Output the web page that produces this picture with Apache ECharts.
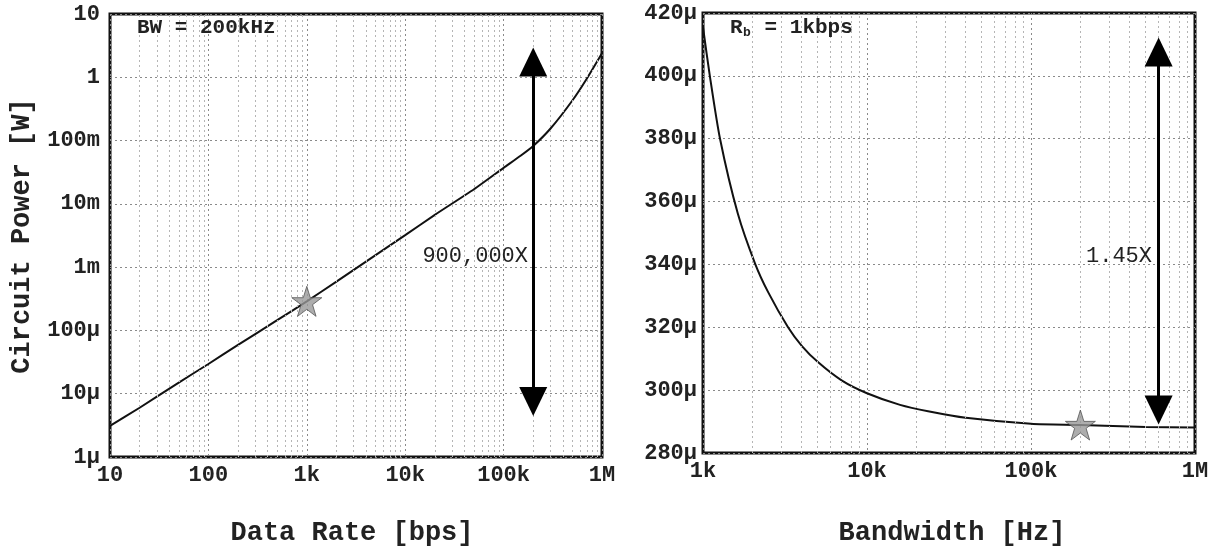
<!DOCTYPE html>
<html>
<head>
<meta charset="utf-8">
<script src="https://cdn.jsdelivr.net/npm/echarts@6/dist/echarts.min.js"></script>
<style>
  html, body { margin: 0; padding: 0; background: #fff; }
  #chart { width: 1220px; height: 548px; }
</style>
</head>
<body>
<div id="chart"></div>
<script>
// Left panel: circuit power vs data rate (BW = 200 kHz)
const rateBps = [10, 20, 50, 100, 200, 500, 1e3, 2e3, 5e3, 1e4, 2e4, 5e4, 1e5, 1.5e5, 2e5, 3e5, 5e5, 7e5, 1e6];
const powerW = [3.1e-6, 6.0e-6, 1.5e-5, 2.95e-5, 5.9e-5, 1.45e-4, 2.88e-4, 5.9e-4, 1.55e-3, 3.2e-3,
                6.7e-3, 1.7e-2, 3.7e-2, 5.8e-2, 8.2e-2, 0.155, 0.43, 0.95, 2.4];
const rateStar = [1000, 2.88e-4];
const rateArrow = { x: 2e5, from: 7.5e-6, to: 1.74 };

// Right panel: circuit power (µW) vs bandwidth (Rb = 1 kbps)
const bwHz = [1000, 1100, 1270, 1630, 2080, 2500, 3300, 4000, 5000, 7000, 10000, 15900, 24000,
              40000, 100000, 200000, 500000, 1000000];
const powerUW = [415.5, 400.1, 380, 356.2, 340.2, 331.1, 320, 314.1, 309, 303.1, 299, 295.3, 293.2,
                 291.2, 289.3, 288.9, 288.3, 288.1];
const bwStar = [200000, 288.9];
const bwArrow = { x: 6e5, from: 293.7, to: 407.6 };

// Axis extents and tick labels
const rateRange = [10, 1e6];
const powerRange = [1e-6, 10];
const bwRange = [1e3, 1e6];
const uwRange = [280, 420];
const uwStep = 20;
const decadeLabels = { '-6': '1µ', '-5': '10µ', '-4': '100µ', '-3': '1m', '-2': '10m', '-1': '100m',
                       '0': '1', '1': '10', '2': '100', '3': '1k', '4': '10k', '5': '100k', '6': '1M' };

// Minor grid positions (2..9 within each decade)
function minorValues(lo, hi) {
  const out = [];
  for (let d = lo; d < hi; d *= 10) {
    for (let m = 2; m <= 9; m++) out.push(d * m);
  }
  return out;
}
const rateMinor = minorValues(10, 1e6);
const bwMinor = minorValues(1e3, 1e6);

const FONT = 'Liberation Mono';
const decadeFmt = v => decadeLabels[String(Math.round(Math.log10(v)))] || '';
const starPath = 'path://M50,2 L61,36 L97,36 L68,57 L79,92 L50,71 L21,92 L32,57 L3,36 L39,36 Z';

const gridLine = { show: true, lineStyle: { color: '#8a8a8a', type: [2, 3], width: 1 } };
const labelStyle = { fontFamily: FONT, fontWeight: 'bold', fontSize: 22, color: '#222' };

function minorSeries(xi, yi, values, yData) {
  return {
    type: 'line', xAxisIndex: xi, yAxisIndex: yi, data: yData, silent: true, z: 1,
    symbol: 'none', lineStyle: { opacity: 0 },
    markLine: {
      silent: true, symbol: 'none', label: { show: false }, animation: false,
      lineStyle: { color: '#b5b5b5', type: [2, 3], width: 1 },
      data: values.map(v => ({ xAxis: v }))
    }
  };
}

function arrowSeries(xi, yi, arrow) {
  return {
    type: 'line', xAxisIndex: xi, yAxisIndex: yi, data: [[arrow.x, arrow.from]], z: 5,
    symbol: 'none', lineStyle: { opacity: 0 }, silent: true,
    markLine: {
      silent: true, animation: false, symbol: ['triangle', 'triangle'], symbolSize: [28, 29],
      label: { show: false },
      lineStyle: { color: '#000', width: 3, type: 'solid' },
      data: [[{ coord: [arrow.x, arrow.from] }, { coord: [arrow.x, arrow.to] }]]
    }
  };
}

const chart = echarts.init(document.getElementById('chart'), null, { renderer: 'canvas' });

chart.setOption({
  animation: false,
  backgroundColor: '#fff',
  grid: [
    { left: 110, top: 14, width: 492, height: 443, show: true, borderColor: '#111', borderWidth: 3, backgroundColor: 'transparent' },
    { left: 703, top: 13, width: 492, height: 440, show: true, borderColor: '#111', borderWidth: 3, backgroundColor: 'transparent' }
  ],
  xAxis: [
    { type: 'log', gridIndex: 0, min: rateRange[0], max: rateRange[1], logBase: 10,
      axisLine: { show: false }, axisTick: { show: false }, splitLine: gridLine,
      axisLabel: Object.assign({ formatter: decadeFmt, margin: 7 }, labelStyle) },
    { type: 'log', gridIndex: 1, min: bwRange[0], max: bwRange[1], logBase: 10,
      axisLine: { show: false }, axisTick: { show: false }, splitLine: gridLine,
      axisLabel: Object.assign({ formatter: decadeFmt, margin: 7 }, labelStyle) }
  ],
  yAxis: [
    { type: 'log', gridIndex: 0, min: powerRange[0], max: powerRange[1], logBase: 10,
      axisLine: { show: false }, axisTick: { show: false }, splitLine: gridLine,
      axisLabel: Object.assign({ formatter: decadeFmt, margin: 10 }, labelStyle) },
    { type: 'value', gridIndex: 1, min: uwRange[0], max: uwRange[1], interval: uwStep,
      axisLine: { show: false }, axisTick: { show: false }, splitLine: gridLine,
      axisLabel: Object.assign({ formatter: v => v + 'µ', margin: 6 }, labelStyle) }
  ],
  series: [
    minorSeries(0, 0, rateMinor, [[rateRange[0], powerRange[0]]]),
    minorSeries(1, 1, bwMinor, [[bwRange[0], uwRange[0]]]),
    {
      type: 'line', xAxisIndex: 0, yAxisIndex: 0, z: 3, symbol: 'none', smooth: 0.2,
      lineStyle: { color: '#111', width: 2 },
      data: rateBps.map((x, i) => [x, powerW[i]])
    },
    {
      type: 'line', xAxisIndex: 1, yAxisIndex: 1, z: 3, symbol: 'none', smooth: 0.25,
      lineStyle: { color: '#111', width: 2 },
      data: bwHz.map((x, i) => [x, powerUW[i]])
    },
    arrowSeries(0, 0, rateArrow),
    arrowSeries(1, 1, bwArrow),
    {
      type: 'scatter', xAxisIndex: 0, yAxisIndex: 0, z: 6, symbol: starPath, symbolSize: 30,
      itemStyle: { color: '#999', borderColor: '#555', borderWidth: 1 },
      data: [rateStar]
    },
    {
      type: 'scatter', xAxisIndex: 1, yAxisIndex: 1, z: 6, symbol: starPath, symbolSize: 30,
      itemStyle: { color: '#999', borderColor: '#555', borderWidth: 1 },
      data: [bwStar]
    }
  ],
  graphic: [
    { type: 'text', left: 137, top: 17, z: 10,
      style: { text: 'BW = 200kHz', font: 'bold 21px "' + FONT + '"', fill: '#222' } },
    { type: 'text', x: 730, y: 17, z: 10,
      style: { text: 'R', font: 'bold 21px "' + FONT + '"', fill: '#222' } },
    { type: 'text', x: 743, y: 26, z: 10,
      style: { text: 'b', font: 'bold 13px "' + FONT + '"', fill: '#222' } },
    { type: 'text', x: 752, y: 17, z: 10,
      style: { text: ' = 1kbps', font: 'bold 21px "' + FONT + '"', fill: '#222' } },
    { type: 'text', x: 528, y: 256, z: 10,
      style: { text: '900,000X', font: '22px "' + FONT + '"', fill: '#222', align: 'right', verticalAlign: 'middle' } },
    { type: 'text', x: 1152, y: 256, z: 10,
      style: { text: '1.45X', font: '22px "' + FONT + '"', fill: '#222', align: 'right', verticalAlign: 'middle' } },
    { type: 'text', x: 352, y: 533, z: 10,
      style: { text: 'Data Rate [bps]', font: 'bold 27px "' + FONT + '"', fill: '#222', align: 'center', verticalAlign: 'middle' } },
    { type: 'text', x: 952, y: 533, z: 10,
      style: { text: 'Bandwidth [Hz]', font: 'bold 27px "' + FONT + '"', fill: '#222', align: 'center', verticalAlign: 'middle' } },
    { type: 'text', x: 22, y: 236, rotation: Math.PI / 2, z: 10,
      style: { text: 'Circuit Power [W]', font: 'bold 27px "' + FONT + '"', fill: '#222', align: 'center', verticalAlign: 'middle' } }
  ]
});
</script>
</body>
</html>
